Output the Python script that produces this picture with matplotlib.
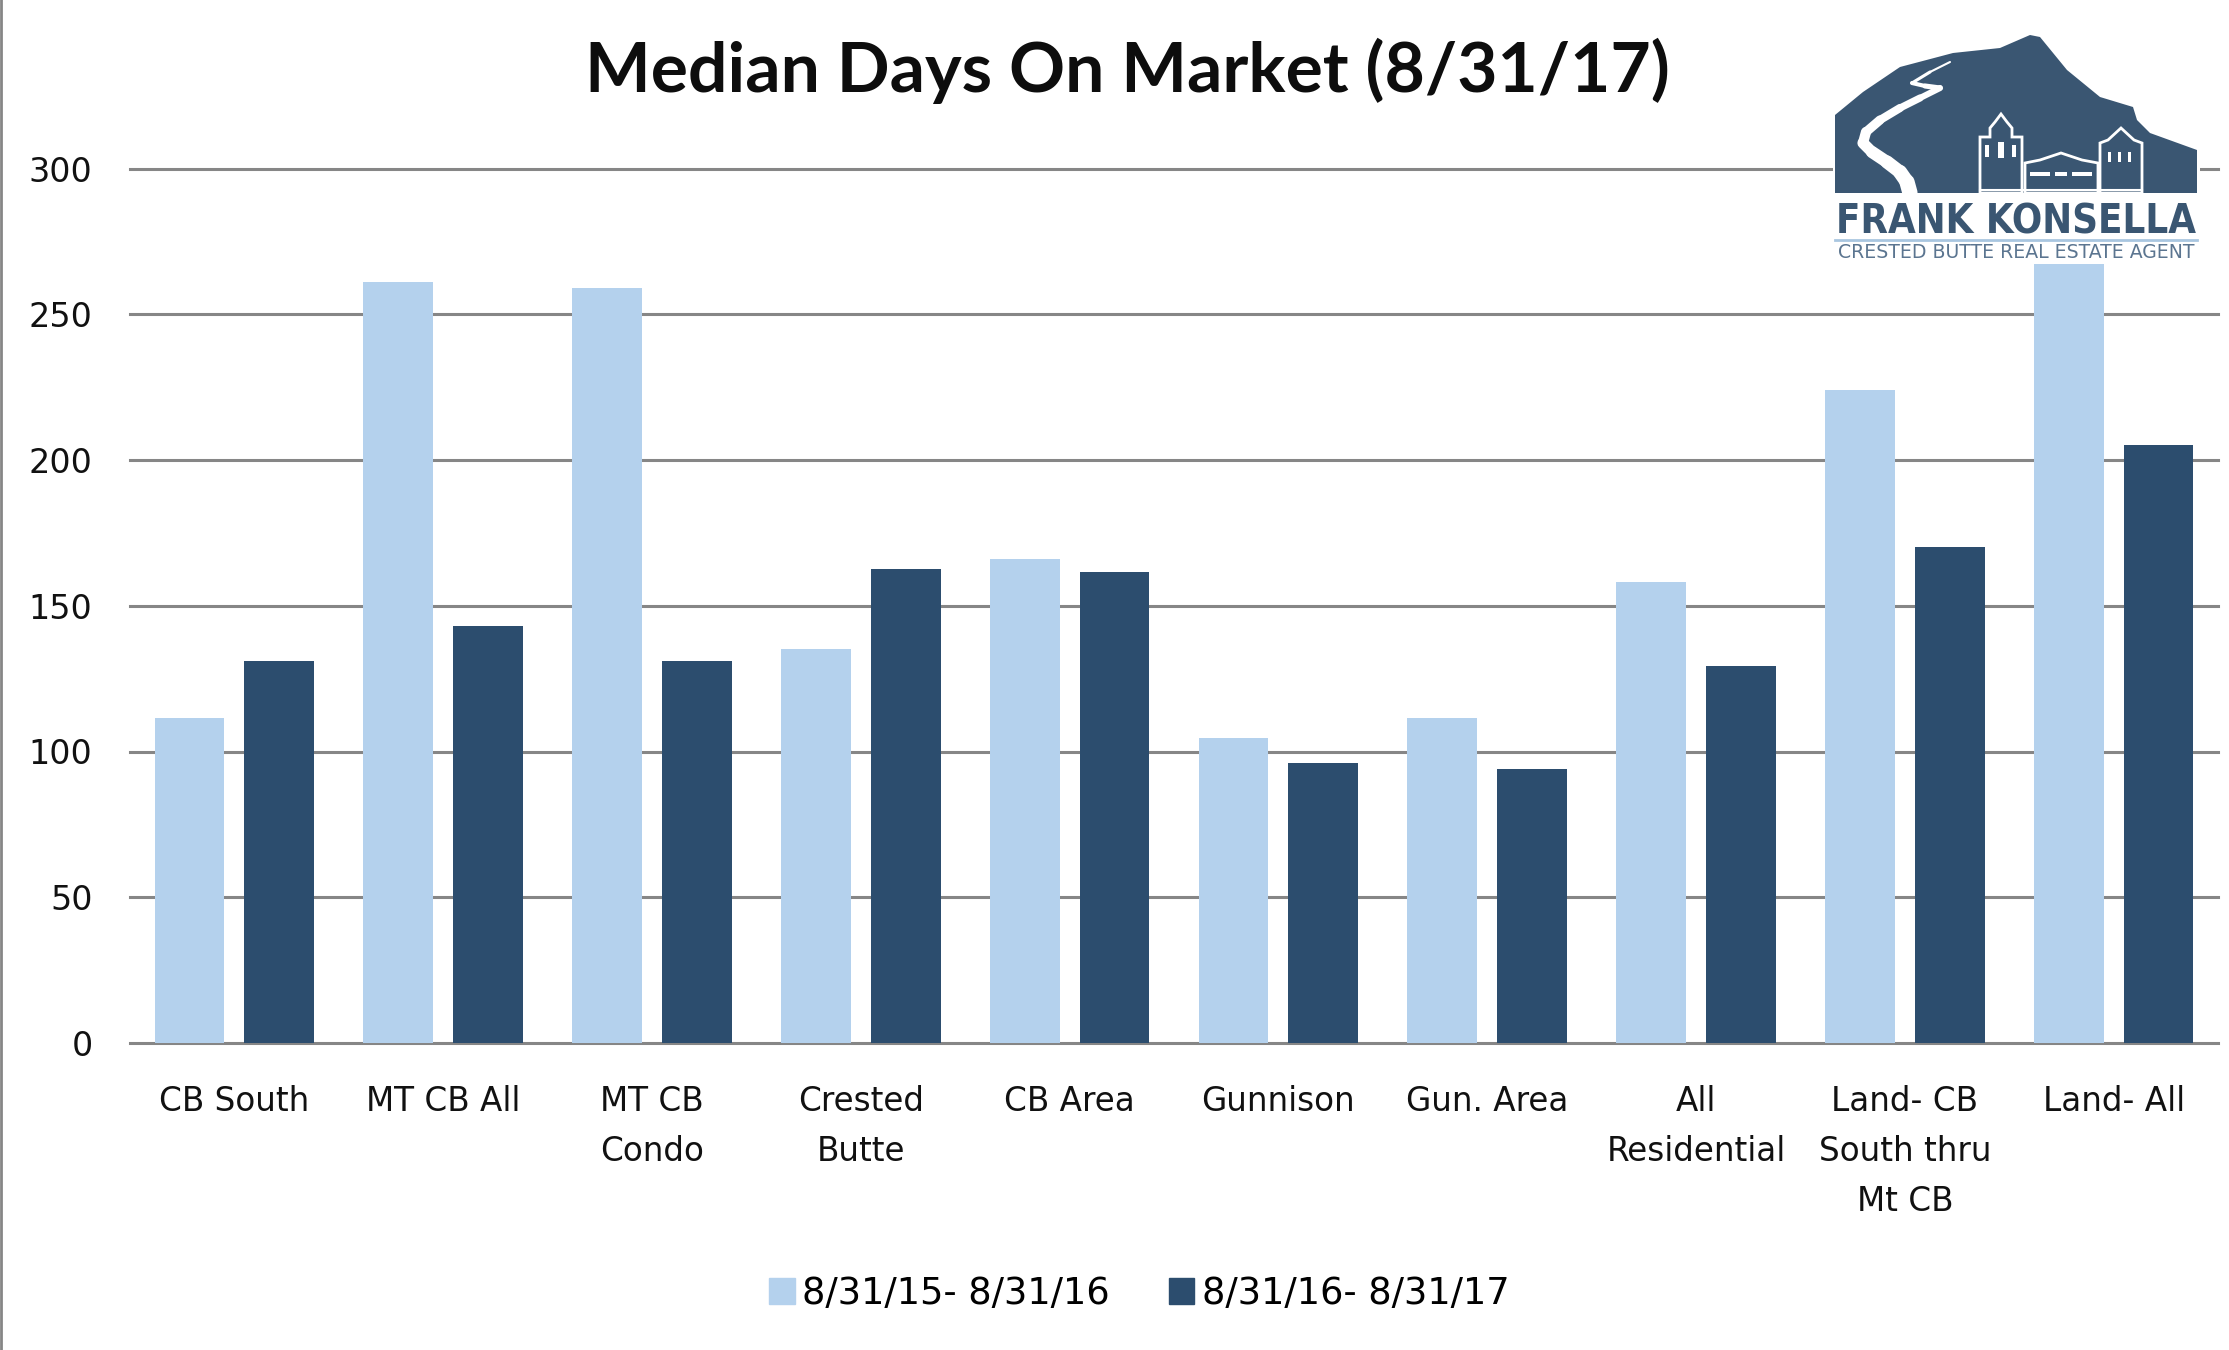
import matplotlib
matplotlib.use("Agg")
import matplotlib.pyplot as plt
import numpy as np
from matplotlib.patches import Polygon, Rectangle
from matplotlib.lines import Line2D
from matplotlib.collections import LineCollection
from matplotlib import font_manager as fm

# ---------------- data ----------------
categories = ["CB South", "MT CB All", "MT CB\nCondo", "Crested\nButte", "CB Area",
              "Gunnison", "Gun. Area", "All\nResidential", "Land- CB\nSouth thru\nMt CB",
              "Land- All"]
period_2016 = [111.5, 261, 259, 135, 166, 104.5, 111.5, 158, 224, 280]
period_2017 = [131, 143, 131, 162.5, 161.5, 96, 94, 129.5, 170, 205]
series_labels = ["8/31/15- 8/31/16", "8/31/16- 8/31/17"]
y_ticks = [0, 50, 100, 150, 200, 250, 300]
title = "Median Days On Market (8/31/17)"

LIGHT = "#B4D1ED"
DARK = "#2C4D6E"
GRID = "#868686"
LOGO = "#3A5672"

W, H = 2229, 1350
fig = plt.figure(figsize=(W / 100, H / 100), dpi=100)
fig.patch.set_facecolor("white")

def fx(px):
    return px / W

def fy(py):
    return 1 - py / H

ax = fig.add_axes([fx(130), fy(1043), fx(2218) - fx(130), fy(168.5) - fy(1043)])
x = np.arange(len(categories))
bw = 0.335
ax.bar(x - 0.215, period_2016, bw, color=LIGHT, zorder=3, label=series_labels[0])
ax.bar(x + 0.215, period_2017, bw, color=DARK, zorder=3, label=series_labels[1])
ax.set_xlim(-0.5, len(categories) - 0.5)
ax.set_ylim(0, 300)
ax.set_yticks(y_ticks)
ax.set_yticklabels([str(v) for v in y_ticks])
ax.set_xticks(x)
ax.set_xticklabels(categories, linespacing=1.66)
ax.yaxis.grid(True, color=GRID, lw=2.2)
for gl in ax.get_ygridlines():
    gl.set_clip_on(False)
ax.set_axisbelow(True)
for s in ax.spines.values():
    s.set_visible(False)
ax.tick_params(axis="y", length=0, labelsize=24, pad=27, labelcolor="#111111")
ax.tick_params(axis="x", length=0, labelsize=23.5, pad=30, labelcolor="#111111")
for t in ax.get_yticklabels() + ax.get_xticklabels():
    t.set_family("DejaVu Sans")

# title
fig.text(fx(1127), fy(71), title, ha="center", va="center", fontsize=50,
         fontweight="bold", family="Lato", color="#0d0d0d")

# legend
handles = [Rectangle((0, 0), 1, 1, color=LIGHT), Rectangle((0, 0), 1, 1, color=DARK)]
fig.legend(handles, series_labels, loc="center", bbox_to_anchor=(fx(1139), fy(1293)),
           ncol=2, frameon=False, fontsize=26.5, handlelength=0.7, handleheight=0.7,
           handletextpad=0.2, columnspacing=1.6)

# left border
fig.add_artist(Line2D([fx(1), fx(1)], [0, 1], color=GRID, lw=2))

# ---------------- logo ----------------
Z = 10
fig.add_artist(Rectangle((fx(1833), fy(264)), fx(2200) - fx(1833), fy(28) - fy(264),
                         facecolor="white", edgecolor="none", zorder=Z))
mountain = [(1835, 115), (1863, 92), (1900, 67), (1953, 53), (2000, 48), (2030, 35),
            (2040, 37), (2067, 70), (2100, 97), (2133, 107), (2137, 120), (2150, 133),
            (2197, 150), (2197, 193), (1835, 193)]
fig.add_artist(Polygon([(fx(a), fy(b)) for a, b in mountain], closed=True,
                       facecolor=LOGO, edgecolor="none", zorder=Z + 1))
road = [(1950, 62), (1930, 72), (1912, 83), (1925, 86), (1940, 88), (1920, 98),
        (1900, 108), (1880, 120), (1866, 132), (1863, 143), (1872, 152), (1887, 162),
        (1900, 172), (1907, 182), (1910, 193)]
segs = [[(fx(road[i][0]), fy(road[i][1])), (fx(road[i + 1][0]), fy(road[i + 1][1]))]
        for i in range(len(road) - 1)]
widths = np.linspace(1.5, 11, len(segs))
fig.add_artist(LineCollection(segs, linewidths=widths, colors="white",
                              capstyle="round", zorder=Z + 2))

def bpoly(pts, z=Z + 3, fc=LOGO, ec="white", lw=2):
    fig.add_artist(Polygon([(fx(a), fy(b)) for a, b in pts], closed=True,
                           facecolor=fc, edgecolor=ec, lw=lw, zorder=z))

bpoly([(1980, 193), (1980, 137), (1990, 137), (1990, 128), (1995, 122), (2001, 114),
       (2007, 122), (2012, 128), (2012, 137), (2022, 137), (2022, 193)])
bpoly([(2025, 193), (2025, 163), (2040, 160), (2061, 153), (2082, 160), (2098, 163),
       (2098, 193)])
bpoly([(2100, 193), (2100, 143), (2108, 140), (2121, 128), (2134, 140), (2142, 143),
       (2142, 193)])
for (a, b, w, h) in [(1985, 145, 4, 12), (1998, 142, 6, 16), (2012, 145, 4, 12),
                     (2108, 152, 3, 10), (2118, 152, 3, 10), (2128, 152, 3, 10),
                     (2030, 172, 20, 4), (2055, 172, 12, 4), (2072, 172, 20, 4)]:
    fig.add_artist(Rectangle((fx(a), fy(b + h)), fx(a + w) - fx(a), fy(b) - fy(b + h),
                             facecolor="white", edgecolor="none", zorder=Z + 4))
fig.add_artist(Line2D([fx(1980), fx(2142)], [fy(190), fy(190)], color="white", lw=1.5,
                      zorder=Z + 4))

# pick a narrow bold font if one is installed
narrow = None
for f in fm.fontManager.ttflist:
    nm = (f.name + " " + f.fname).lower()
    if ("narrow" in nm or "condensed" in nm or f.stretch in ("condensed", "semi-condensed",
                                                              "extra-condensed")):
        wt = f.weight if isinstance(f.weight, int) else (700 if "bold" in str(f.weight) else 400)
        if wt >= 600 and f.style == "normal":
            narrow = fm.FontProperties(fname=f.fname)
            break
if narrow is None:
    narrow = fm.FontProperties(family="Roboto", weight="bold")

name_txt = fig.text(fx(2016), fy(233), "FRANK KONSELLA", ha="center", va="baseline",
                    fontproperties=narrow, fontsize=34, color=LOGO, zorder=Z + 5)
fig.add_artist(Line2D([fx(1835), fx(2197)], [fy(240), fy(240)], color="#A9C6E0", lw=2,
                      zorder=Z + 5))
sub_txt = fig.text(fx(2016), fy(258), "CRESTED BUTTE REAL ESTATE AGENT", ha="center",
                   va="baseline", family="DejaVu Sans", fontsize=11.5, color="#5B7590",
                   zorder=Z + 5)

renderer = fig.canvas.get_renderer()
for t, target in [(name_txt, 360), (sub_txt, 358)]:
    bb = t.get_window_extent(renderer)
    t.set_fontsize(t.get_fontsize() * target / bb.width)

fig.savefig("out.png", dpi=100, facecolor="white")
